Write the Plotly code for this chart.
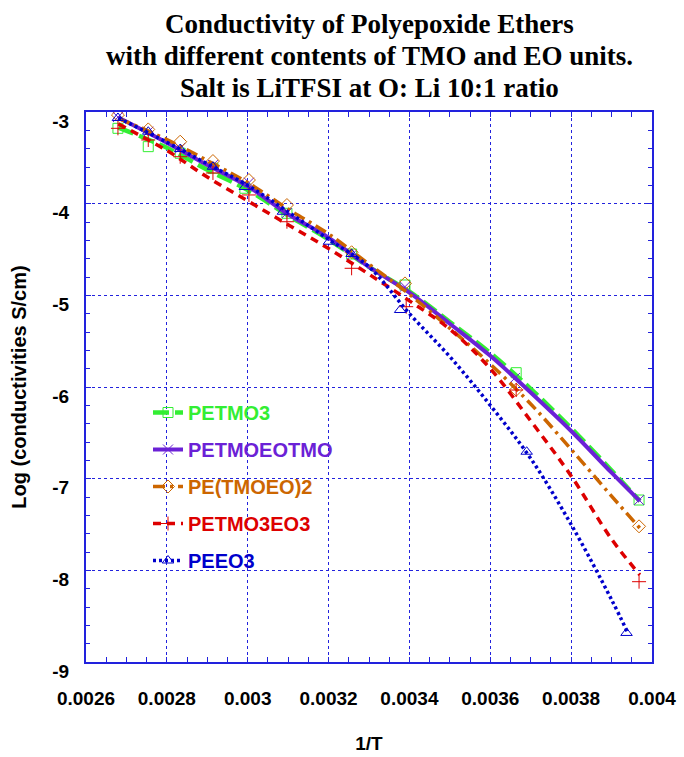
import plotly.graph_objects as go

# ---------------- data ----------------
series_names = ["PETMO3", "PETMOEOTMO", "PE(TMOEO)2", "PETMO3EO3", "PEEO3"]
colors = ["#33ee33", "#6b21d6", "#cc6600", "#dd0000", "#0000cc"]

# fitted curves, sampled at these 1/T values
curve_x = [0.00268, 0.0028, 0.0029, 0.0030, 0.0031, 0.0032, 0.0033,
           0.0034, 0.0035, 0.0036, 0.0037, 0.0038, 0.0039, 0.00397]
curve_petmo3 = [-3.17, -3.39, -3.63, -3.85, -4.13, -4.39, -4.69,
                -4.96, -5.29, -5.63, -6.02, -6.45, -6.91, -7.245]
curve_petmoeotmo = [-3.06, -3.335, -3.578, -3.81, -4.115, -4.37, -4.69,
                    -4.97, -5.31, -5.66, -6.06, -6.48, -6.935, -7.245]
curve_pe_tmoeo2 = [-3.07, -3.30, -3.53, -3.77, -4.06, -4.33, -4.66,
                   -4.99, -5.36, -5.75, -6.185, -6.68, -7.19, -7.54]
curve_petmo3eo3 = [-3.13, -3.42, -3.71, -3.97, -4.23, -4.49, -4.77,
                   -5.06, -5.37, -5.80, -6.37, -6.97, -7.66, -8.05]
curve_peeo3_x = [0.00268, 0.0028, 0.0029, 0.0030, 0.0031, 0.0032, 0.0033,
                 0.0034, 0.0035, 0.0036, 0.0037, 0.0038, 0.0039, 0.00394]
curve_peeo3 = [-3.065, -3.33, -3.565, -3.80, -4.09, -4.39, -4.69,
               -5.20, -5.67, -6.20, -6.78, -7.50, -8.32, -8.68]

# measured points
pts_petmo3_x = [0.002679, 0.002754, 0.002833, 0.002914, 0.002993, 0.003097,
                0.003257, 0.003389, 0.003664, 0.003968]
pts_petmo3_y = [-3.178, -3.378, -3.45, -3.614, -3.832, -4.105,
                -4.549, -4.887, -5.844, -7.233]
pts_petmoeotmo_x = [0.002679, 0.002754, 0.002833, 0.002914, 0.003003, 0.003097,
                    0.003257, 0.003389, 0.003661, 0.003968]
pts_petmoeotmo_y = [-3.055, -3.215, -3.393, -3.578, -3.771, -4.102,
                    -4.56, -4.906, -5.902, -7.233]
pts_pe_tmoeo2_x = [0.002679, 0.002754, 0.002833, 0.002914, 0.003003, 0.003097,
                   0.003257, 0.003389, 0.003664, 0.003968]
pts_pe_tmoeo2_y = [-3.033, -3.19, -3.324, -3.535, -3.742, -4.015,
                   -4.53, -4.87, -6.03, -7.52]
pts_petmo3eo3_x = [0.002679, 0.002754, 0.002833, 0.002914, 0.003003, 0.003097,
                   0.003257, 0.003392, 0.003664, 0.003968]
pts_petmo3eo3_y = [-3.178, -3.305, -3.488, -3.665, -3.905, -4.197,
                   -4.705, -5.124, -6.033, -8.124]
pts_peeo3_x = [0.002679, 0.002754, 0.002833, 0.002914, 0.002993, 0.003087,
               0.003201, 0.003257, 0.003377, 0.00369, 0.003937]
pts_peeo3_y = [-3.065, -3.215, -3.404, -3.597, -3.818, -4.088,
               -4.415, -4.549, -5.16, -6.706, -8.683]

x_tickvals = [0.0026, 0.0028, 0.0030, 0.0032, 0.0034, 0.0036, 0.0038, 0.0040]
x_ticktext = ["0.0026", "0.0028", "0.003", "0.0032", "0.0034", "0.0036", "0.0038", "0.004"]
y_tickvals = [-9, -8, -7, -6, -5, -4, -3]
y_ticktext = ["-9", "-8", "-7", "-6", "-5", "-4", "-3"]

title_lines = ["Conductivity of Polyepoxide Ethers",
               "with different contents of TMO and EO units.",
               "Salt is LiTFSI at O: Li 10:1 ratio"]

# ---------------- styling ----------------
curves_x = [curve_x, curve_x, curve_x, curve_x, curve_peeo3_x]
curves_y = [curve_petmo3, curve_petmoeotmo, curve_pe_tmoeo2, curve_petmo3eo3, curve_peeo3]
pts_x = [pts_petmo3_x, pts_petmoeotmo_x, pts_pe_tmoeo2_x, pts_petmo3eo3_x, pts_peeo3_x]
pts_y = [pts_petmo3_y, pts_petmoeotmo_y, pts_pe_tmoeo2_y, pts_petmo3eo3_y, pts_peeo3_y]
dashes = ["16px,6px", "solid", "12px,5px,3px,5px", "8px,6px", "3px,3px"]
widths = [4.5, 4, 3.5, 3.5, 3.5]
symbols = ["square-open", "x-thin-open", "diamond-open", "cross-thin-open", "triangle-up-open"]

AXIS_BLUE = "#2222dd"
SANS = "Liberation Sans, Arial, sans-serif"
SERIF = "Liberation Serif, Times New Roman, serif"

fig = go.Figure()
for i, name in enumerate(series_names):
    fig.add_trace(go.Scatter(
        x=curves_x[i], y=curves_y[i], mode="lines", line_shape="spline",
        line=dict(color=colors[i], width=widths[i], dash=dashes[i]),
        showlegend=False, hoverinfo="skip", legendgroup=name))
    fig.add_trace(go.Scatter(
        x=pts_x[i], y=pts_y[i], mode="markers",
        marker=dict(symbol=symbols[i], size=10, color=colors[i],
                    line=dict(color=colors[i], width=1)),
        showlegend=False, legendgroup=name))
    fig.add_trace(go.Scatter(
        x=[None], y=[None], mode="lines+markers",
        name='<span style="color:%s">%s</span>' % (colors[i], name),
        line=dict(color=colors[i], width=widths[i], dash=dashes[i]),
        marker=dict(symbol=symbols[i], size=10, color=colors[i],
                    line=dict(color=colors[i], width=1)),
        legendgroup=name, showlegend=True))

axis_common = dict(
    showline=True, linecolor=AXIS_BLUE, linewidth=2, mirror="ticks",
    ticks="inside", ticklen=5, tickwidth=1, tickcolor=AXIS_BLUE,
    showgrid=True, gridcolor=AXIS_BLUE, gridwidth=1, griddash="dot",
    zeroline=False,
    tickfont=dict(family=SANS, size=19, color="black", weight="bold"),
)

fig.update_xaxes(
    range=[0.0026, 0.0040], tickvals=x_tickvals, ticktext=x_ticktext,
    minor=dict(dtick=0.00005, ticks="inside", ticklen=5, tickcolor=AXIS_BLUE, showgrid=False),
    ticklabelstandoff=18,
    title=dict(text="1/T", font=dict(family=SANS, size=19, color="black", weight="bold"),
               standoff=29),
    **axis_common)
fig.update_yaxes(
    range=[-9, -3], tickvals=y_tickvals, ticktext=y_ticktext,
    minor=dict(dtick=0.2, ticks="inside", ticklen=4, tickcolor=AXIS_BLUE, showgrid=False),
    ticklabelstandoff=11, ticklabelshift=9,
    title=dict(text="Log (conductivities S/cm)",
               font=dict(family=SANS, size=20, color="black", weight="bold"),
               standoff=20),
    **axis_common)

title_centers_px = [24, 56, 88]
for line, cy in zip(title_lines, title_centers_px):
    fig.add_annotation(
        text=line, xref="paper", x=0.5, xanchor="center",
        yref="paper", y=1 + (112 - cy) / 550, yanchor="middle",
        showarrow=False,
        font=dict(family=SERIF, size=27, color="black", weight="bold"))

fig.update_layout(
    width=684, height=757,
    margin=dict(l=86, r=32, t=112, b=95, autoexpand=False),
    paper_bgcolor="white", plot_bgcolor="white",
    legend=dict(x=(148 - 86) / 566, y=(662 - 393) / 550, xanchor="left", yanchor="top",
                bgcolor="rgba(0,0,0,0)", borderwidth=0, traceorder="grouped",
                tracegroupgap=8,
                font=dict(family=SANS, size=20, weight="bold")),
    showlegend=True,
)

fig.write_html("out.html")
